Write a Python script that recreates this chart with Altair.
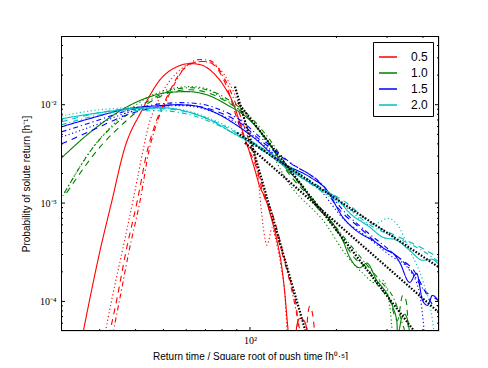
import altair as alt
import pandas as pd

X_DOMAIN = [22, 455]
Y_DOMAIN = [5e-5, 5e-2]

SERIES = ["0.5", "1.0", "1.5", "2.0"]
COLORS = ["#ff0000", "#008000", "#0000ff", "#00bfbf"]
STYLES = ["solid", "dashed", "dotted", "dashdot"]
DASHES = [[1, 0], [6, 5], [1.2, 2.5], [5, 3, 1.2, 3]]

# ---- series 0.5 (red) ----
r_solid_x = [25.7, 27.6, 30.1, 33.0, 36.5, 42.2, 48.7, 55.8, 61.9, 67.0, 74.4, 81.9, 87.3, 93.8, 98.4, 104.1, 108.3, 112.7, 119.2, 124.1, 129.1, 132.3, 135.5, 137.7, 143.3, 145.6, 149.2, 154.0, 157.8, 160.3]
r_solid_y = [3.5e-5, 1.0e-4, 3.31e-4, 1.02e-3, 3.48e-3, 8.9e-3, 0.018, 0.0244, 0.0262, 0.0256, 0.0212, 0.0149, 0.0105, 5.6e-3, 3.7e-3, 2.17e-3, 1.46e-3, 1.15e-3, 6.71e-4, 4.19e-4, 2.22e-4, 1.2e-4, 5.4e-5, 3.5e-5, 3.5e-5, 5.68e-5, 6.7e-5, 6.4e-5, 5.2e-5, 3.5e-5]
r_dotted_x = [30.7, 33.0, 36.0, 39.2, 42.5, 44.0, 48.7, 55.8, 63.4, 68.7, 78.7, 90.2, 98.4, 104.1, 107.4, 110.0, 112.7, 114.5, 116.4, 119.2, 123.1, 128.1, 132.3, 135.5]
r_dotted_y = [3.5e-5, 1.02e-4, 3.31e-4, 1.07e-3, 3.48e-3, 5.56e-3, 0.0121, 0.0212, 0.0268, 0.0275, 0.0228, 0.0112, 5.56e-3, 3.09e-3, 1.53e-3, 7.55e-4, 4.4e-4, 3.73e-4, 4.19e-4, 5.6e-4, 4.19e-4, 2.33e-4, 1.15e-4, 3.5e-5]
r_dashed_x = [31.7, 34.3, 37.1, 40.6, 44.0, 46.1, 51.5, 58.5, 67.0, 70.7, 78.0, 83.8, 91.1, 98.4, 106.6, 110.9, 119.2, 125.1, 132.3, 139.9, 145.9, 149.2, 156.6, 158.9, 161.6, 165.5, 169.5]
r_dashed_y = [3.5e-5, 1.0e-4, 3.31e-4, 1.07e-3, 3.48e-3, 5.56e-3, 0.0121, 0.0228, 0.0275, 0.0275, 0.022, 0.0142, 6.55e-3, 3.72e-3, 2.03e-3, 1.27e-3, 8.05e-4, 5.0e-4, 2.62e-4, 1.4e-4, 7.6e-5, 3.5e-5, 3.5e-5, 7.2e-5, 8.9e-5, 7.2e-5, 3.5e-5]
r_dashdot_x = [32.7, 35.1, 38.0, 41.5, 44.6, 47.2, 52.3, 59.5, 67.0, 72.6, 81.9, 92.3, 104.1, 115.5, 127.1, 139.9, 149.2, 152.7]
r_dashdot_y = [3.5e-5, 1.0e-4, 3.31e-4, 1.07e-3, 3.48e-3, 6.25e-3, 0.0126, 0.024, 0.0288, 0.0281, 0.018, 7.9e-3, 2.75e-3, 9.55e-4, 3.73e-4, 1.29e-4, 5.05e-5, 3.5e-5]

# ---- series 1.0 (green) ----
g_solid_x = [22.1, 28.5, 37.4, 43.9, 51.5, 60.4, 70.9, 83.2, 97.6, 112.7, 132.3, 149.2, 170.8, 194.4, 210.4, 222.5, 241.1, 255.2, 276.2, 299.4, 314.5, 324.8, 326.3, 337.2, 345.5, 353.9, 362.5]
g_solid_y = [2.88e-3, 5.56e-3, 9.55e-3, 0.0118, 0.0133, 0.0136, 0.0126, 0.0100, 7.4e-3, 4.7e-3, 2.33e-3, 1.6e-3, 9.1e-4, 6.2e-4, 4.19e-4, 2.8e-4, 2.2e-4, 2.45e-4, 1.64e-4, 1.2e-4, 8.7e-5, 6.1e-5, 4.5e-5, 6.7e-5, 7.4e-5, 6.4e-5, 4.0e-5]
g_dashed_x = [23.0, 30.1, 37.4, 45.0, 52.7, 61.9, 70.9, 83.2, 97.6, 112.7, 137.7, 170.8, 205.4, 231.6, 257.0, 279.0, 306.4, 326.3, 340.0, 349.6, 356.8]
g_dashed_y = [1.27e-3, 3.72e-3, 7.0e-3, 0.0107, 0.0133, 0.0142, 0.0133, 0.0107, 7.6e-3, 4.6e-3, 1.93e-3, 9.55e-4, 4.7e-4, 2.75e-4, 2.15e-4, 1.45e-4, 1.02e-4, 6.4e-5, 1.15e-4, 1.02e-4, 4.5e-5]
g_dotted_x = [22.3, 28.5, 32.7, 37.4, 43.9, 51.5, 61.9, 69.8, 78.7, 90.2, 104.1, 137.7, 184.9, 210.4, 247.0, 276.2, 289.6, 306.4, 314.5]
g_dotted_y = [1.18e-3, 3.72e-3, 5.9e-3, 8.5e-3, 0.0118, 0.0142, 0.0153, 0.0147, 0.0121, 9.3e-3, 6.25e-3, 1.53e-3, 5.97e-4, 3.31e-4, 1.93e-4, 1.52e-4, 1.64e-4, 9.1e-5, 4.0e-5]
g_dashdot_x = [22.6, 29.5, 37.4, 45.0, 52.7, 61.9, 72.6, 85.2, 100.0, 117.3, 143.3, 175.1, 213.8, 250.9, 282.9, 318.9, 345.5, 359.6]
g_dashdot_y = [1.27e-3, 4.2e-3, 7.9e-3, 0.0112, 0.0139, 0.0149, 0.0139, 0.011, 7.6e-3, 4.4e-3, 1.8e-3, 9.1e-4, 4.4e-4, 2.5e-4, 1.64e-4, 1.02e-4, 5.05e-5, 3.5e-5]

# ---- series 1.5 (blue) ----
b_solid_x = [22.1, 28.5, 37.4, 48.7, 54.9, 63.4, 74.4, 87.3, 102.4, 130.0, 161.6, 185.0, 210.4, 241.1, 267.4, 299.4, 314.5, 331.9, 359.6, 380.3, 399.0, 415.0, 432.0, 457.0]
b_solid_y = [5.97e-3, 7.4e-3, 9.1e-3, 9.8e-3, 0.0100, 9.8e-3, 8.5e-3, 6.55e-3, 4.7e-3, 2.56e-3, 1.84e-3, 1.36e-3, 7.2e-4, 4.95e-4, 4.19e-4, 3.31e-4, 3.1e-4, 2.5e-4, 1.56e-4, 1.93e-4, 1.02e-4, 9.1e-5, 1.15e-4, 9.7e-5]
b_dashed_x = [22.1, 28.5, 37.4, 48.7, 57.1, 67.0, 78.7, 92.3, 108.3, 137.7, 175.1, 205.4, 241.1, 282.9, 331.9, 374.3, 405.4, 439.2, 457.0]
b_dashed_y = [4.0e-3, 5.56e-3, 7.9e-3, 9.55e-3, 0.0100, 9.55e-3, 8.3e-3, 6.55e-3, 4.4e-3, 2.56e-3, 1.6e-3, 8.5e-4, 5.6e-4, 3.73e-4, 2.75e-4, 2.0e-4, 1.29e-4, 9.1e-5, 9.1e-5]
b_dotted_x = [22.1, 28.5, 37.4, 48.7, 57.1, 67.0, 78.7, 92.3, 108.3, 137.7, 175.1, 213.8, 250.9, 306.4, 359.6, 389.5, 408.6]
b_dotted_y = [4.7e-3, 6.1e-3, 8.3e-3, 9.55e-3, 9.8e-3, 9.3e-3, 7.9e-3, 6.25e-3, 4.2e-3, 2.28e-3, 1.36e-3, 6.7e-4, 4.72e-4, 2.95e-4, 2.07e-4, 1.2e-4, 3.5e-5]
b_dashdot_x = [22.1, 28.5, 37.4, 48.7, 57.1, 67.0, 78.7, 92.3, 108.3, 137.7, 175.1, 213.8, 250.9, 306.4, 359.6, 405.4, 457.0]
b_dashdot_y = [5.3e-3, 6.7e-3, 8.7e-3, 0.0102, 0.0105, 0.0102, 8.9e-3, 7.0e-3, 4.7e-3, 2.6e-3, 1.63e-3, 8.1e-4, 5.3e-4, 3.31e-4, 2.15e-4, 1.29e-4, 1.02e-4]

# ---- series 2.0 (cyan) ----
c_solid_x = [22.1, 28.3, 36.2, 45.0, 50.7, 60.4, 72.6, 87.3, 108.3, 130.0, 170.8, 200.0, 222.5, 261.1, 289.6, 324.0, 359.6, 399.0, 429.0, 457.0]
c_solid_y = [7.2e-3, 8.1e-3, 8.9e-3, 9.3e-3, 9.3e-3, 8.5e-3, 7.0e-3, 5.17e-3, 3.64e-3, 2.44e-3, 1.46e-3, 1.13e-3, 7.9e-4, 5.7e-4, 4.5e-4, 4.19e-4, 3.31e-4, 2.62e-4, 2.68e-4, 2.33e-4]
c_dashed_x = [22.1, 30.1, 38.3, 48.7, 61.9, 75.6, 92.3, 112.7, 137.7, 175.1, 217.2, 261.1, 318.9, 380.3, 457.0]
c_dashed_y = [6.7e-3, 8.3e-3, 9.1e-3, 9.1e-3, 8.3e-3, 6.7e-3, 4.94e-3, 3.48e-3, 2.33e-3, 1.46e-3, 1.0e-3, 6.4e-4, 4.72e-4, 3.73e-4, 2.75e-4]
c_dotted_x = [22.1, 30.1, 38.3, 48.7, 61.9, 75.6, 92.3, 112.7, 137.7, 175.1, 222.5, 261.1, 282.9, 301.5, 326.3, 359.6, 399.0, 432.0, 443.0]
c_dotted_y = [7.7e-3, 8.9e-3, 9.3e-3, 9.3e-3, 8.5e-3, 6.9e-3, 5.1e-3, 3.48e-3, 2.28e-3, 1.36e-3, 8.5e-4, 6.0e-4, 6.4e-4, 7.0e-4, 6.0e-4, 3.31e-4, 1.64e-4, 6.4e-5, 3.5e-5]
c_dashdot_x = [22.1, 30.1, 38.3, 48.7, 61.9, 75.6, 92.3, 112.7, 137.7, 175.1, 213.8, 261.1, 318.9, 380.3, 457.0]
c_dashdot_y = [6.25e-3, 7.9e-3, 8.7e-3, 8.7e-3, 7.9e-3, 6.4e-3, 4.7e-3, 3.3e-3, 2.17e-3, 1.36e-3, 9.55e-4, 6.0e-4, 4.5e-4, 3.55e-4, 2.5e-4]

# ---- power-law fits (black dotted) ----
fit_05_x = [88.7, 161.6]
fit_05_y = [0.0153, 3.5e-5]
fit_10_x = [90.9, 383.4]
fit_10_y = [0.0105, 4.5e-5]
fit_15_x = [96.1, 457.0]
fit_15_y = [4.1e-3, 7.6e-5]
fit_20_x = [90.2, 457.0]
fit_20_y = [5.17e-3, 2.2e-4]

# tick positions
X_MAJOR = [100]
X_MINOR = [30, 40, 50, 60, 70, 80, 90, 200, 300, 400]
Y_MAJOR = [1e-4, 1e-3, 1e-2]
Y_MINOR = [6e-5, 7e-5, 8e-5, 9e-5, 2e-4, 3e-4, 4e-4, 5e-4, 6e-4, 7e-4, 8e-4, 9e-4,
           2e-3, 3e-3, 4e-3, 5e-3, 6e-3, 7e-3, 8e-3, 9e-3, 2e-2, 3e-2, 4e-2]

curves = [
    ("0.5", "solid", r_solid_x, r_solid_y), ("0.5", "dashed", r_dashed_x, r_dashed_y),
    ("0.5", "dotted", r_dotted_x, r_dotted_y), ("0.5", "dashdot", r_dashdot_x, r_dashdot_y),
    ("1.0", "solid", g_solid_x, g_solid_y), ("1.0", "dashed", g_dashed_x, g_dashed_y),
    ("1.0", "dotted", g_dotted_x, g_dotted_y), ("1.0", "dashdot", g_dashdot_x, g_dashdot_y),
    ("1.5", "solid", b_solid_x, b_solid_y), ("1.5", "dashed", b_dashed_x, b_dashed_y),
    ("1.5", "dotted", b_dotted_x, b_dotted_y), ("1.5", "dashdot", b_dashdot_x, b_dashdot_y),
    ("2.0", "solid", c_solid_x, c_solid_y), ("2.0", "dashed", c_dashed_x, c_dashed_y),
    ("2.0", "dotted", c_dotted_x, c_dotted_y), ("2.0", "dashdot", c_dashdot_x, c_dashdot_y),
]
rows = []
for s, st, xs, ys in curves:
    for i, (xv, yv) in enumerate(zip(xs, ys)):
        rows.append({"x": xv, "y": yv, "series": s, "style": st, "cid": s + st, "i": i})
df = pd.DataFrame(rows)

fits = [("0.5", fit_05_x, fit_05_y), ("1.0", fit_10_x, fit_10_y),
        ("1.5", fit_15_x, fit_15_y), ("2.0", fit_20_x, fit_20_y)]
frows = []
for s, xs, ys in fits:
    for i, (xv, yv) in enumerate(zip(xs, ys)):
        frows.append({"x": xv, "y": yv, "fit": s, "i": i})
fdf = pd.DataFrame(frows)

W, H = 378, 295
xscale = alt.Scale(type="log", domain=X_DOMAIN, nice=False)
yscale = alt.Scale(type="log", domain=Y_DOMAIN, nice=False)

xlabel = "Return time / Square root of push time [h⁰·⁵]"
ylabel = "Probability of solute return [h⁻¹]"

lines = alt.Chart(df).mark_line(clip=True, strokeWidth=1.1, interpolate="monotone").encode(
    x=alt.X("x:Q", scale=xscale,
            axis=alt.Axis(values=X_MAJOR, labelExpr="'10²'", title=xlabel, ticks=False,
                          domain=False, grid=False, labelFont="Liberation Serif", labelFontSize=10,
                          labelPadding=4, titleFont="Liberation Sans", titleFontSize=10,
                          titleFontWeight="normal", titlePadding=6, titleColor="black",
                          labelColor="black")),
    y=alt.Y("y:Q", scale=yscale,
            axis=alt.Axis(values=Y_MAJOR,
                          labelExpr="datum.value < 0.0005 ? '10⁻⁴' : (datum.value < 0.005 ? '10⁻³' : '10⁻²')",
                          title=ylabel, ticks=False, domain=False, grid=False,
                          labelFont="Liberation Serif", labelFontSize=10, labelPadding=5,
                          titleFont="Liberation Sans", titleFontSize=10, titleFontWeight="normal",
                          titlePadding=8, titleColor="black", labelColor="black")),
    color=alt.Color("series:N", scale=alt.Scale(domain=SERIES, range=COLORS),
                    legend=alt.Legend(title=None, orient="none", legendX=312, legendY=6,
                                      symbolType="stroke", symbolSize=324, symbolStrokeWidth=1.3,
                                      labelFont="Liberation Sans", labelFontSize=12,
                                      labelOffset=13, rowPadding=-1.4, padding=5,
                                      fillColor="white", strokeColor="black",
                                      labelColor="black", symbolDash=[1, 0])),
    strokeDash=alt.StrokeDash("style:N", scale=alt.Scale(domain=STYLES, range=DASHES), legend=None),
    detail="cid:N",
    order="i:Q",
)

fit_lines = alt.Chart(fdf).mark_line(clip=True, strokeWidth=2.2, color="black",
                                     strokeDash=[1.6, 1.6]).encode(
    x=alt.X("x:Q", scale=xscale),
    y=alt.Y("y:Q", scale=yscale),
    detail="fit:N",
    order="i:Q",
)

xt = pd.DataFrame({"v": X_MAJOR + X_MINOR, "len": [4] * len(X_MAJOR) + [2] * len(X_MINOR)})
yt = pd.DataFrame({"v": Y_MAJOR + Y_MINOR, "len": [4] * len(Y_MAJOR) + [2] * len(Y_MINOR)})

def xticks(ypix, direction, major):
    d = xt[xt["len"] == (4 if major else 2)]
    L = 4 if major else 2
    return alt.Chart(d).mark_rule(color="black", strokeWidth=1).encode(
        x=alt.X("v:Q", scale=xscale), y=alt.value(ypix), y2=alt.value(ypix + direction * L))

def yticks(xpix, direction, major):
    d = yt[yt["len"] == (4 if major else 2)]
    L = 4 if major else 2
    return alt.Chart(d).mark_rule(color="black", strokeWidth=1).encode(
        y=alt.Y("v:Q", scale=yscale), x=alt.value(xpix), x2=alt.value(xpix + direction * L))

ticks = [xticks(H, -1, True), xticks(H, -1, False), xticks(0, 1, True), xticks(0, 1, False),
         yticks(0, 1, True), yticks(0, 1, False), yticks(W, -1, True), yticks(W, -1, False)]

# frame (spines), drawn on half pixels so they stay crisp
frame_df = pd.DataFrame({"k": [0]})
frame = [
    alt.Chart(frame_df).mark_rule(color="black", strokeWidth=1).encode(
        x=alt.value(0), x2=alt.value(W), y=alt.value(0.5)),
    alt.Chart(frame_df).mark_rule(color="black", strokeWidth=1).encode(
        x=alt.value(0), x2=alt.value(W), y=alt.value(H - 0.5)),
    alt.Chart(frame_df).mark_rule(color="black", strokeWidth=1).encode(
        y=alt.value(0), y2=alt.value(H), x=alt.value(0.5)),
    alt.Chart(frame_df).mark_rule(color="black", strokeWidth=1).encode(
        y=alt.value(0), y2=alt.value(H), x=alt.value(W - 0.5)),
]

chart = alt.layer(lines, fit_lines, *ticks, *frame).properties(
    width=W, height=H,
    autosize=alt.AutoSizeParams(type="none"),
    padding={"left": 53, "top": 28, "right": 41, "bottom": 29},
).configure_view(strokeWidth=0).configure(background="white")

chart.save("out.html", embed_options={"renderer": "svg", "actions": False})
